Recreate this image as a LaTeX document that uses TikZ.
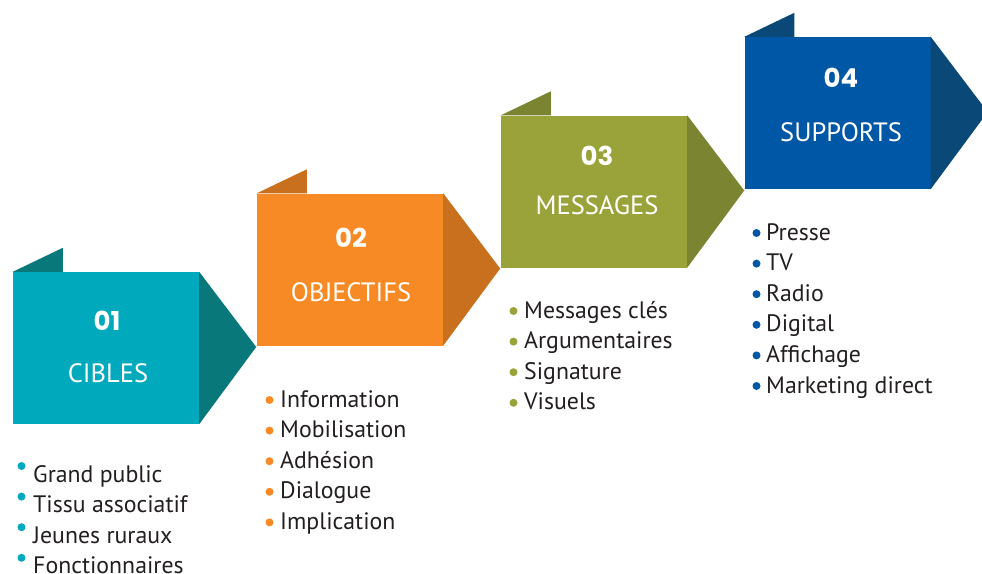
\documentclass[tikz,border=0pt]{standalone}
\usepackage{fontspec}
\setmainfont{PT Sans}
\newfontfamily\numfont{Poppins}
\usetikzlibrary{calc,backgrounds}
\definecolor{tealL}{HTML}{00A9BC}
\definecolor{tealD}{HTML}{09787A}
\definecolor{orgL}{HTML}{F78A25}
\definecolor{orgD}{HTML}{C9701F}
\definecolor{oliL}{HTML}{9AA23A}
\definecolor{oliD}{HTML}{7B8531}
\definecolor{bluL}{HTML}{0057A6}
\definecolor{bluD}{HTML}{0A4877}
\definecolor{txtgray}{HTML}{231F20}
\begin{document}
\begin{tikzpicture}[x=1pt,y=-1pt,
  blockbox/.style={rectangle, minimum width=186pt, minimum height=152pt, inner sep=0pt, fill=#1},
  numtext/.style={text=white, inner sep=0pt, font=\numfont\bfseries\fontsize{26}{26}\selectfont},
  titletext/.style={text=white, inner sep=0pt, font=\fontsize{26.5}{26.5}\selectfont},
  itemtext/.style={text=txtgray, anchor=base west, inner sep=0pt, font=\fontsize{23.8}{23.8}\selectfont},
  bul/.style={circle, fill=#1, minimum size=8pt, inner sep=0pt},
  shade1/.style={fill=black, opacity=0.10},
  shade2/.style={fill=black, opacity=0.05}]
\useasboundingbox (0,0) rectangle (982,573);
\fill[white] (0,0) rectangle (982,573);

% blocks: body, top flap and arrow point
\foreach \nm/\cx/\cy/\cl/\cd in {b1/106/348/tealL/tealD, b2/350/269.5/orgL/orgD, b3/594/191.5/oliL/oliD, b4/837.5/113/bluL/bluD}{
  \node[blockbox=\cl] (\nm) at (\cx,\cy) {};
  \begin{pgfonlayer}{background}
    \fill[shade2] ([shift={(5,6)}]\nm.north west) -- ([shift={(5,6)}]\nm.north east) -- ($(\nm.east)+(62,6)$) -- ([shift={(5,6)}]\nm.south east) -- ([shift={(5,6)}]\nm.south west) -- cycle;
    \fill[shade1] ([shift={(2,3)}]\nm.north west) -- ([shift={(2,3)}]\nm.north east) -- ($(\nm.east)+(59,3)$) -- ([shift={(2,3)}]\nm.south east) -- ([shift={(2,3)}]\nm.south west) -- cycle;
  \end{pgfonlayer}
  \fill[\cd] (\nm.north west) -- ++(50,-24) -- ++(0,24) -- cycle;
  \fill[\cd] (\nm.north east) -- ($(\nm.east)+(57,-1)$) -- (\nm.south east) -- cycle;
}

% numbers and titles
\node[numtext] (n1) at (107,321) {01};
\node[titletext] (t1) at (108,373) {CIBLES};
\node[numtext] (n2) at (351,238) {02};
\node[titletext] (t2) at (351,292) {OBJECTIFS};
\node[numtext] (n3) at (597,156) {03};
\node[titletext] (t3) at (597,205) {MESSAGES};
\node[numtext] (n4) at (841,78) {04};
\node[titletext] (t4) at (841,132) {SUPPORTS};

% list 1
\foreach \i/\t in {0/Grand public, 1/Tissu associatif, 2/Jeunes ruraux, 3/Fonctionnaires}{
  \node[itemtext] (l1-\i) at (33,482+30.6*\i) {\t};
  \node[bul=tealL] (p1-\i) at (21.5,466+30.6*\i) {};
}
% list 2
\foreach \i/\t in {0/Information, 1/Mobilisation, 2/Adhésion, 3/Dialogue, 4/Implication}{
  \node[itemtext] (l2-\i) at (280,407+30.6*\i) {\t};
  \node[bul=orgL] (p2-\i) at (269.5,400+30.6*\i) {};
}
% list 3
\foreach \i/\t in {0/Messages clés, 1/Argumentaires, 2/Signature, 3/Visuels}{
  \node[itemtext] (l3-\i) at (524,318+30.6*\i) {\t};
  \node[bul=oliL] (p3-\i) at (513.5,311+30.6*\i) {};
}
% list 4
\foreach \i/\t in {0/Presse, 1/TV, 2/Radio, 3/Digital, 4/Affichage, 5/Marketing direct}{
  \node[itemtext] (l4-\i) at (766,240+30.6*\i) {\t};
  \node[bul=bluL] (p4-\i) at (756.5,233+30.6*\i) {};
}
\end{tikzpicture}
\end{document}
